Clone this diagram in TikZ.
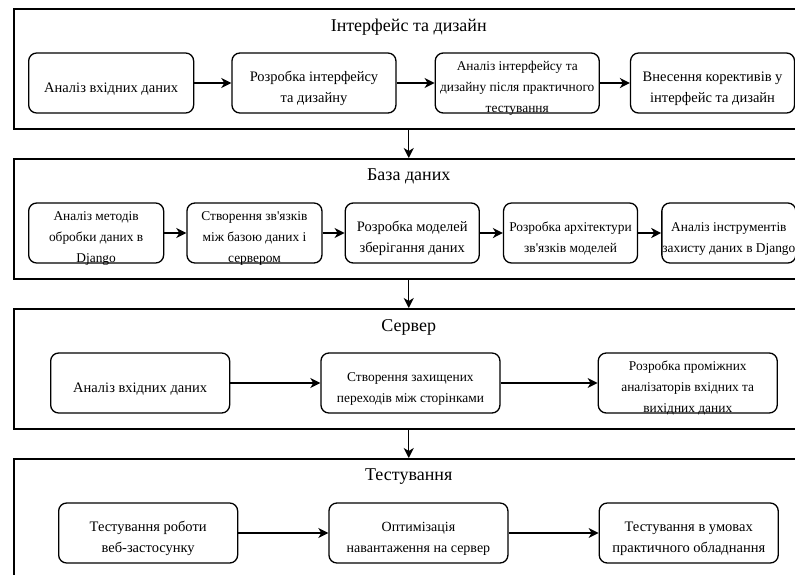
\documentclass[tikz,border=0pt]{standalone}
\usepackage{fontspec}
\setmainfont{Liberation Serif}
\usetikzlibrary{arrows.meta, positioning}

\begin{document}
\begin{tikzpicture}[
            x=1pt, y=-1pt,
            font=\fontsize{14.5}{21}\selectfont,
            panel/.style={draw, line width=1.5pt, anchor=north west, inner sep=0pt, minimum width=790pt, minimum height=120pt},
            title/.style={inner sep=0pt, font=\fontsize{18}{22}\selectfont},
            box/.style={draw, line width=1.3pt, rounded corners=8pt, align=center, inner sep=0pt, minimum height=60pt, text height=49pt, text depth=11pt},
            oneline/.style={text height=39pt, text depth=21pt},
            threeline/.style={text height=59pt, text depth=1pt},
            dense/.style={box, font=\fontsize{13.4}{21}\selectfont},
            wide/.style={minimum width=179pt},
            arrow/.style={-{Stealth[length=10pt, width=10pt, inset=3pt]}, line width=1.3pt},
            thickarrow/.style={arrow, line width=2pt}
        ]
            \clip (0,0) rectangle (795,574);

            % panels
            \node[panel] (p1) at (13,8) {};
            \node[panel] (p2) at (13,158) {};
            \node[panel] (p3) at (13,308) {};
            \node[panel] (p4) at (13,458) {};

            \node[title, below=11pt of p1.north] (t1) {Інтерфейс та дизайн};
            \node[title, below=11pt of p2.north] (t2) {База даних};
            \node[title, below=11pt of p3.north] (t3) {Сервер};
            \node[title, below=11pt of p4.north] (t4) {Тестування};

            % Інтерфейс та дизайн
            \node[box, oneline, minimum width=165pt, anchor=west] (a1) at (28,83) {Аналіз вхідних даних};
            \node[box, minimum width=164pt, right=37pt of a1] (a2) {Розробка інтерфейсу\\та дизайну};
            \node[dense, threeline, minimum width=164pt, right=38pt of a2] (a3) {Аналіз інтерфейсу та\\\makebox[164pt]{дизайну після практичного}\\тестування};
            \node[box, minimum width=164pt, right=30pt of a3] (a4) {Внесення коректив\-ів у\\інтерфейс та дизайн};

            % База даних
            \node[dense, threeline, minimum width=135pt, anchor=west] (b1) at (28,233) {Аналіз методів\\обробки даних в\\Django};
            \node[dense, threeline, minimum width=135pt, right=22pt of b1] (b2) {Створення зв\textquotesingle язків\\між базою даних і\\сервером};
            \node[box, minimum width=134pt, right=22pt of b2] (b3) {Розробка моделей\\зберігання даних};
            \node[dense, minimum width=134pt, right=23pt of b3] (b4) {\makebox[134pt]{Розробка архітектури}\\зв\textquotesingle язків моделей};
            \node[dense, minimum width=134pt, right=23pt of b4] (b5) {Аналіз інструментів\\\makebox[134pt]{захисту даних в Django}};

            % Сервер
            \node[box, oneline, wide, anchor=west] (c1) at (50,383) {Аналіз вхідних даних};
            \node[dense, wide, right=90pt of c1] (c2) {Створення захищених\\переходів між сторінками};
            \node[dense, threeline, wide, right=97pt of c2] (c3) {Розробка проміжних\\аналізаторів вхідних та\\вихідних даних};

            % Тестування
            \node[box, wide, anchor=west] (d1) at (58,533) {Тестування роботи\\веб-застосунку};
            \node[dense, wide, font=\fontsize{14}{21}\selectfont, right=90pt of d1] (d2) {Оптимізація\\навантаження на сервер};
            \node[box, wide, right=90pt of d2] (d3) {Тестування в умовах\\практичного обладнання};

            \draw[thickarrow] (a1) -- (a2);
            \draw[thickarrow] (a2) -- (a3);
            \draw[thickarrow] (a3) -- (a4);
            \draw[thickarrow] (b1) -- (b2);
            \draw[thickarrow] (b2) -- (b3);
            \draw[thickarrow] (b3) -- (b4);
            \draw[thickarrow] (b4) -- (b5);
            \draw[arrow] (c1) -- (c2);
            \draw[arrow] (c2) -- (c3);
            \draw[arrow] (d1) -- (d2);
            \draw[arrow] (d2) -- (d3);

            \draw[arrow] (p1) -- (p2);
            \draw[arrow] (p2) -- (p3);
            \draw[arrow] (p3) -- (p4);
        \end{tikzpicture}
\end{document}
